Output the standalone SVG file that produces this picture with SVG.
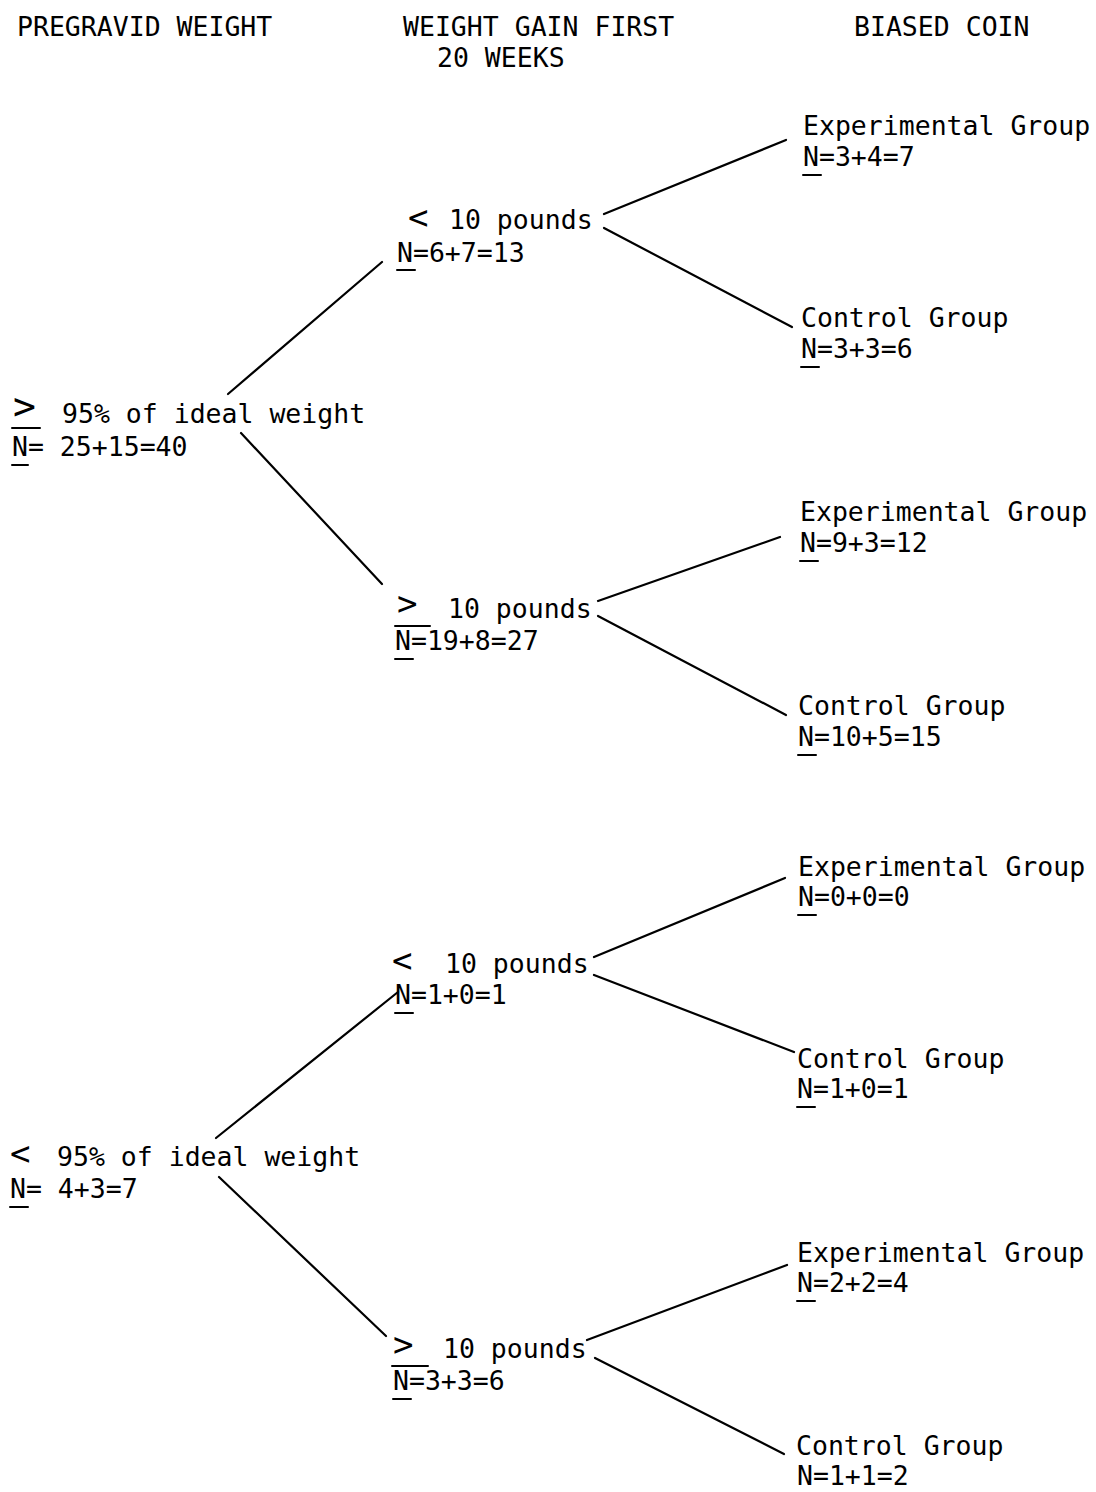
<svg xmlns="http://www.w3.org/2000/svg" width="1096" height="1492" viewBox="0 0 1096 1492">
<style>
text{font-family:"DejaVu Sans Mono","Liberation Mono",monospace;font-size:26.5px;fill:#000}
.sym{font-size:34px}
.big{font-size:38px}
line{stroke:#000;stroke-width:2.2;stroke-linecap:round}
.u{stroke-width:2}
</style>
<rect width="1096" height="1492" fill="#fff"/>
<g id="headers">
<text x="17" y="36">PREGRAVID WEIGHT</text>
<text x="403" y="36">WEIGHT GAIN FIRST</text>
<text x="437" y="67">20 WEEKS</text>
<text x="854" y="36">BIASED COIN</text>
</g>
<g id="n-root-high">
<text class="sym big" x="13" y="419">&gt;</text>
<line class="u" x1="12" y1="428" x2="40" y2="428"/>
<text x="62" y="423">95% of ideal weight</text>
<text x="12" y="456">N= 25+15=40</text>
<line class="u" x1="12" y1="465" x2="28" y2="465"/>
</g>
<g id="n-high-lt10">
<text class="sym" x="408" y="229">&lt;</text>
<text x="449" y="229">10 pounds</text>
<text x="397" y="262">N=6+7=13</text>
<line class="u" x1="397" y1="270" x2="415" y2="270"/>
</g>
<g id="n-high-lt10-exp">
<text x="803" y="135">Experimental Group</text>
<text x="803" y="166">N=3+4=7</text>
<line class="u" x1="803" y1="175" x2="821" y2="175"/>
</g>
<g id="n-high-lt10-ctl">
<text x="801" y="327">Control Group</text>
<text x="801" y="358">N=3+3=6</text>
<line class="u" x1="801" y1="367" x2="819" y2="367"/>
</g>
<g id="n-high-gt10">
<text class="sym" x="397" y="615">&gt;</text>
<line class="u" x1="395" y1="626" x2="430" y2="626"/>
<text x="448" y="618">10 pounds</text>
<text x="395" y="650">N=19+8=27</text>
<line class="u" x1="395" y1="659" x2="413" y2="659"/>
</g>
<g id="n-high-gt10-exp">
<text x="800" y="521">Experimental Group</text>
<text x="800" y="552">N=9+3=12</text>
<line class="u" x1="800" y1="561" x2="818" y2="561"/>
</g>
<g id="n-high-gt10-ctl">
<text x="798" y="715">Control Group</text>
<text x="798" y="746">N=10+5=15</text>
<line class="u" x1="798" y1="755" x2="816" y2="755"/>
</g>
<g id="n-root-low">
<text class="sym" x="10" y="1165">&lt;</text>
<text x="57" y="1166">95% of ideal weight</text>
<text x="10" y="1198">N= 4+3=7</text>
<line class="u" x1="10" y1="1207" x2="28" y2="1207"/>
</g>
<g id="n-low-lt10">
<text class="sym" x="392" y="972">&lt;</text>
<text x="445" y="973">10 pounds</text>
<text x="395" y="1004">N=1+0=1</text>
<line class="u" x1="395" y1="1013" x2="413" y2="1013"/>
</g>
<g id="n-low-lt10-exp">
<text x="798" y="876">Experimental Group</text>
<text x="798" y="906">N=0+0=0</text>
<line class="u" x1="798" y1="915" x2="816" y2="915"/>
</g>
<g id="n-low-lt10-ctl">
<text x="797" y="1068">Control Group</text>
<text x="797" y="1098">N=1+0=1</text>
<line class="u" x1="797" y1="1107" x2="815" y2="1107"/>
</g>
<g id="n-low-gt10">
<text class="sym" x="393" y="1356">&gt;</text>
<line class="u" x1="392" y1="1366" x2="428" y2="1366"/>
<text x="443" y="1358">10 pounds</text>
<text x="393" y="1390">N=3+3=6</text>
<line class="u" x1="393" y1="1399" x2="411" y2="1399"/>
</g>
<g id="n-low-gt10-exp">
<text x="797" y="1262">Experimental Group</text>
<text x="797" y="1292">N=2+2=4</text>
<line class="u" x1="797" y1="1301" x2="815" y2="1301"/>
</g>
<g id="n-low-gt10-ctl">
<text x="796" y="1455">Control Group</text>
<text x="797" y="1485">N=1+1=2</text>
</g>
<g id="connectors">
<line x1="228" y1="394" x2="382" y2="262"/>
<line x1="241" y1="433" x2="382" y2="584"/>
<line x1="604" y1="214" x2="786" y2="140"/>
<line x1="604" y1="228" x2="792" y2="327"/>
<line x1="598" y1="601" x2="780" y2="537"/>
<line x1="598" y1="616" x2="786" y2="715"/>
<line x1="216" y1="1138" x2="398" y2="992"/>
<line x1="219" y1="1177" x2="386" y2="1336"/>
<line x1="594" y1="957" x2="785" y2="878"/>
<line x1="594" y1="975" x2="794" y2="1052"/>
<line x1="587" y1="1340" x2="787" y2="1265"/>
<line x1="595" y1="1358" x2="784" y2="1454"/>
</g>
</svg>
